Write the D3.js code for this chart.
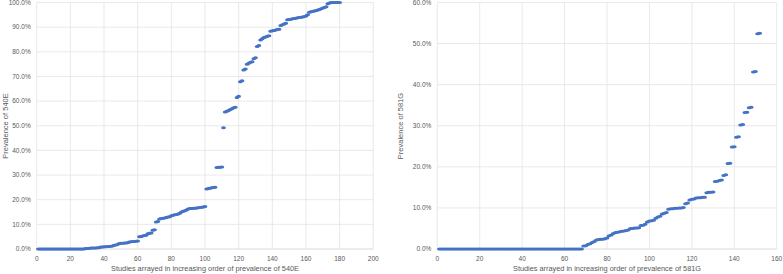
<!DOCTYPE html>
<html>
<head>
<meta charset="utf-8">
<script src="https://cdn.jsdelivr.net/npm/d3@7"></script>
<style>
  body { margin: 0; background: #fff; }
  text { font-family: "Liberation Sans", Arial, sans-serif; fill: #595959; }
</style>
</head>
<body>
<div id="chart"></div>
<script>
"use strict";

// prevalence (%) of 540E, studies sorted ascending
const prev540E = [
  0, 0, 0, 0, 0, 0, 0, 0, 0, 0,
  0, 0, 0, 0, 0, 0, 0, 0, 0, 0,
  0, 0, 0, 0, 0, 0, 0, 0, 0.2, 0.2,
  0.2, 0.4, 0.4, 0.4, 0.4, 0.5, 0.5, 0.8, 0.8, 0.9,
  0.9, 1.0, 1.0, 1.1, 1.2, 1.5, 1.6, 1.8, 2.2, 2.3,
  2.3, 2.4, 2.4, 2.5, 2.8, 2.9, 3.0, 3.0, 3.1, 3.2,
  5.0, 5.1, 5.3, 5.5, 5.6, 6.2, 6.4, 6.5, 7.6, 7.8,
  11.0, 11.2, 12.2, 12.4, 12.5, 12.6, 12.8, 13.0, 13.1, 13.5,
  13.7, 13.9, 14.0, 14.2, 14.5, 15.0, 15.3, 15.5, 15.8, 16.2,
  16.4, 16.4, 16.5, 16.5, 16.6, 16.7, 16.8, 16.9, 17.0, 17.2,
  24.3, 24.5, 24.6, 24.8, 25.0, 25.1, 33.1, 33.2, 33.2, 33.3,
  49.2, 55.6, 55.9, 56.2, 56.6, 56.9, 57.3, 57.5, 61.5, 62.0,
  67.8, 68.3, 72.6, 73.0, 75.0, 75.4, 75.8, 76.0, 77.2, 77.6,
  82.2, 82.6, 84.8, 85.3, 85.8, 86.0, 86.3, 86.5, 88.3, 88.5,
  88.6, 88.8, 89.0, 89.1, 90.7, 91.0, 91.3, 91.6, 93.0, 93.1,
  93.2, 93.4, 93.5, 93.6, 93.8, 93.9, 94.0, 94.1, 94.3, 94.5,
  95.0, 96.0, 96.2, 96.4, 96.6, 96.8, 97.0, 97.2, 97.5, 97.8,
  98.0, 98.3, 99.5, 99.8, 100, 100, 100, 100, 100, 100
];

// prevalence (%) of 581G, studies sorted ascending
const prev581G = [
  0, 0, 0, 0, 0, 0, 0, 0, 0, 0,
  0, 0, 0, 0, 0, 0, 0, 0, 0, 0,
  0, 0, 0, 0, 0, 0, 0, 0, 0, 0,
  0, 0, 0, 0, 0, 0, 0, 0, 0, 0,
  0, 0, 0, 0, 0, 0, 0, 0, 0, 0,
  0, 0, 0, 0, 0, 0, 0, 0, 0, 0,
  0, 0, 0, 0, 0, 0, 0, 0, 0.7, 0.8,
  1.1, 1.3, 1.6, 1.8, 2.2, 2.3, 2.4, 2.4, 2.5, 2.7,
  3.2, 3.4, 3.8, 4.0, 4.1, 4.2, 4.3, 4.4, 4.5, 4.6,
  5.0, 5.0, 5.1, 5.1, 5.2, 5.7, 5.8, 6.0, 6.6, 6.8,
  6.9, 7.0, 7.5, 7.8, 8.0, 8.5, 8.7, 8.9, 9.7, 9.8,
  9.8, 9.9, 9.9, 10.0, 10.0, 10.1, 11.0, 11.2, 11.9, 12.1,
  12.2, 12.4, 12.5, 12.5, 12.6, 12.6, 13.7, 13.8, 13.8, 13.9,
  16.4, 16.5, 16.7, 16.8, 17.9, 18.1, 20.8, 20.9, 24.8, 24.9,
  27.2, 27.3, 30.2, 30.3, 33.2, 33.3, 34.4, 34.5, 43.1, 43.2,
  52.4, 52.5
];

const xTicks540E = [0, 20, 40, 60, 80, 100, 120, 140, 160, 180, 200];
const yTicks540E = [0, 10, 20, 30, 40, 50, 60, 70, 80, 90, 100];
const xTicks581G = [0, 20, 40, 60, 80, 100, 120, 140, 160];
const yTicks581G = [0, 10, 20, 30, 40, 50, 60];

const svgWidth = 783, svgHeight = 274;

const svg = d3.select("#chart")
  .append("svg")
  .attr("width", svgWidth)
  .attr("height", svgHeight);

function drawPanel(cfg) {
  const g = svg.append("g");

  const x = d3.scaleLinear().domain(d3.extent(cfg.xTicks)).range([cfg.left, cfg.right]);
  const y = d3.scaleLinear().domain(d3.extent(cfg.yTicks)).range([249, 2.5]);

  // gridlines
  g.selectAll(".vg").data(cfg.xTicks).enter().append("line")
    .attr("x1", d => x(d)).attr("x2", d => x(d))
    .attr("y1", y.range()[1]).attr("y2", y.range()[0])
    .attr("stroke", "#e3e3e3").attr("stroke-width", 0.8);
  g.selectAll(".hg").data(cfg.yTicks).enter().append("line")
    .attr("x1", cfg.left).attr("x2", cfg.right)
    .attr("y1", d => y(d)).attr("y2", d => y(d))
    .attr("stroke", d => d === 0 ? "#d0d0d0" : "#e3e3e3").attr("stroke-width", 0.8);

  // tick labels
  g.selectAll(".xl").data(cfg.xTicks).enter().append("text")
    .attr("x", d => x(d)).attr("y", 260.5)
    .attr("text-anchor", "middle").attr("font-size", "6.5px")
    .text(d => d);
  g.selectAll(".yl").data(cfg.yTicks).enter().append("text")
    .attr("x", cfg.left - 6).attr("y", d => y(d) + 2.3)
    .attr("text-anchor", "end").attr("font-size", "6.5px")
    .text(d => d.toFixed(1) + "%");

  // axis titles
  g.append("text")
    .attr("x", (cfg.left + cfg.right) / 2).attr("y", 271)
    .attr("text-anchor", "middle").attr("font-size", "7.5px")
    .attr("textLength", 188).attr("lengthAdjust", "spacingAndGlyphs")
    .text(cfg.xTitle);
  g.append("text")
    .attr("transform", "rotate(-90)")
    .attr("x", -126).attr("y", cfg.yTitleX)
    .attr("text-anchor", "middle").attr("font-size", "7.5px")
    .text(cfg.yTitle);

  // markers
  g.selectAll("ellipse").data(cfg.values).enter().append("ellipse")
    .attr("cx", (d, i) => x(i + 1))
    .attr("cy", d => y(d))
    .attr("rx", 2.4).attr("ry", 1.5)
    .attr("fill", "#4472c4");
}

drawPanel({
  values: prev540E, xTicks: xTicks540E, yTicks: yTicks540E,
  left: 36.7, right: 373.3, yTitleX: 8,
  xTitle: "Studies arrayed in increasing order of prevalence of 540E",
  yTitle: "Prevalence of 540E"
});

drawPanel({
  values: prev581G, xTicks: xTicks581G, yTicks: yTicks581G,
  left: 437.3, right: 776.7, yTitleX: 403,
  xTitle: "Studies arrayed in increasing order of prevalence of 581G",
  yTitle: "Prevalence of 581G"
});
</script>
</body>
</html>
